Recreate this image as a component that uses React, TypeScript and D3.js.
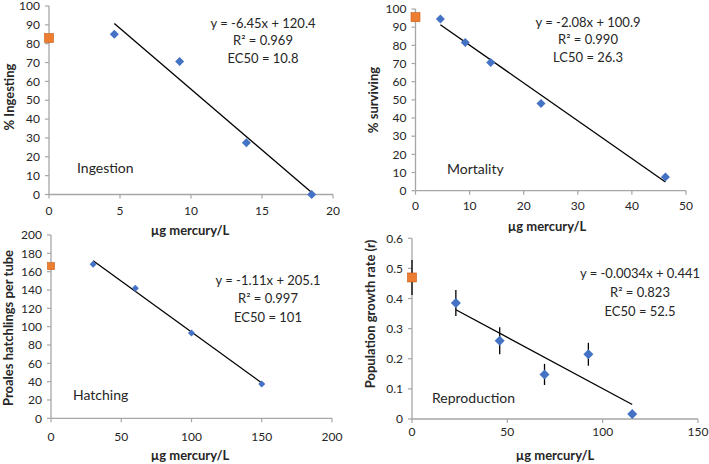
import React from "react";
import * as d3 from "d3";

// ---------- data ----------
const ingestX = [4.6, 9.2, 13.9, 18.5];
const ingestY = [85, 70.5, 27.5, 0];
const ingestControl = 83;

const mortX = [4.6, 9.2, 13.9, 23.2, 46.2];
const mortY = [94.5, 81.5, 70.5, 48, 7.5];
const mortControl = 95.5;

const hatchX = [30, 60, 100, 150];
const hatchY = [168, 142, 93, 37.5];
const hatchControl = 166;

const reproX = [23, 46, 69.5, 92.5, 115.5];
const reproY = [0.385, 0.26, 0.148, 0.215, 0.017];
const reproErr = [0.043, 0.045, 0.035, 0.038, 0.006];
const reproControl = 0.47;
const reproControlErr = 0.058;

const ingestTicksX = [0, 5, 10, 15, 20];
const ingestTicksY = [0, 10, 20, 30, 40, 50, 60, 70, 80, 90, 100];
const mortTicksX = [0, 10, 20, 30, 40, 50];
const mortTicksY = [0, 10, 20, 30, 40, 50, 60, 70, 80, 90, 100];
const hatchTicksX = [0, 50, 100, 150, 200];
const hatchTicksY = [0, 20, 40, 60, 80, 100, 120, 140, 160, 180, 200];
const reproTicksX = [0, 50, 100, 150];
const reproTicksY = [0, 0.1, 0.2, 0.3, 0.4, 0.5, 0.6];

const ingestEq = ["y = -6.45x + 120.4", "R² = 0.969", "EC50 = 10.8"];
const mortEq = ["y = -2.08x + 100.9", "R² = 0.990", "LC50 = 26.3"];
const hatchEq = ["y = -1.11x + 205.1", "R² = 0.997", "EC50 = 101"];
const reproEq = ["y = -0.0034x + 0.441", "R² = 0.823", "EC50 = 52.5"];

const ingestFit = [-6.45, 120.4];
const mortFit = [-2.08, 100.9];
const hatchFit = [-1.11, 205.1];
const reproFit = [-0.0034, 0.441];

const BLUE = "#4472C4";
const ORANGE = "#ED7D31";
const AXIS = "#a6a6a6";
const FONT = "Lato, 'Open Sans', sans-serif";

type PanelProps = {
  box: [number, number, number, number]; // left, right, top, bottom
  xDomain: [number, number];
  yDomain: [number, number];
  xTicks: number[];
  yTicks: number[];
  yFmt?: (v: number) => string;
  xs: number[];
  ys: number[];
  errs?: number[];
  control: number;
  controlErr?: number;
  fit: number[];
  eq: string[];
  eqPos: [number, number, number];
  label: string;
  labelPos: [number, number];
  yTitle: string;
  yTitlePos: [number, number];
  xTitlePos: [number, number];
  xLabelOff: number;
  diamond: number;
  square: number;
};

function Panel(p: PanelProps) {
  const [l, r, t, b] = p.box;
  const x = d3.scaleLinear().domain(p.xDomain).range([l, r]);
  const y = d3.scaleLinear().domain(p.yDomain).range([b, t]);
  const fmt = p.yFmt || ((v: number) => String(v));
  const x0 = d3.min(p.xs) as number;
  const x1 = d3.max(p.xs) as number;
  const line = d3
    .line<number>()
    .x((v) => x(v))
    .y((v) => y(p.fit[0] * v + p.fit[1]));
  const ds = p.diamond / 2;
  const diamondPath = `M0,${-ds}L${ds},0L0,${ds}L${-ds},0Z`;
  return (
    <g fontFamily={FONT}>
      {/* axes */}
      <line x1={x(p.xDomain[0])} x2={x(p.xDomain[1])} y1={b} y2={b} stroke={AXIS} strokeWidth={1.3} />
      <line x1={l} x2={l} y1={y(p.yDomain[0])} y2={y(p.yDomain[1])} stroke={AXIS} strokeWidth={1.3} />
      {p.yTicks.map((v) => (
        <g key={"yt" + v}>
          <line x1={l - 4} x2={l} y1={y(v)} y2={y(v)} stroke={AXIS} strokeWidth={1.2} />
          <text x={l - 9} y={y(v)} dy="0.35em" textAnchor="end" fontSize={12} fill="#262626">
            {fmt(v)}
          </text>
        </g>
      ))}
      {p.xTicks.map((v) => (
        <g key={"xt" + v}>
          <line x1={x(v)} x2={x(v)} y1={b} y2={b + 4} stroke={AXIS} strokeWidth={1.2} />
          <text x={x(v)} y={b + p.xLabelOff} dy="0.35em" textAnchor="middle" fontSize={12} fill="#262626">
            {v}
          </text>
        </g>
      ))}
      {/* titles */}
      <text
        x={p.xTitlePos[0]}
        y={p.xTitlePos[1]}
        dy="0.35em"
        textAnchor="middle"
        fontSize={13}
        fontWeight="bold"
        fill="#262626"
      >
        µg mercury/L
      </text>
      <text
        transform={`translate(${p.yTitlePos[0]},${p.yTitlePos[1]}) rotate(-90)`}
        dy="0.35em"
        textAnchor="middle"
        fontSize={13}
        fontWeight="bold"
        fill="#262626"
      >
        {p.yTitle}
      </text>
      {/* error bars */}
      {p.errs &&
        p.xs.map((v, i) => (
          <line
            key={"e" + i}
            x1={x(v)}
            x2={x(v)}
            y1={y(p.ys[i] - p.errs![i])}
            y2={y(p.ys[i] + p.errs![i])}
            stroke="#000"
            strokeWidth={1.3}
          />
        ))}
      {p.controlErr !== undefined && (
        <line
          x1={x(0)}
          x2={x(0)}
          y1={y(p.control - p.controlErr)}
          y2={y(p.control + p.controlErr)}
          stroke="#000"
          strokeWidth={1.3}
        />
      )}
      {/* trend line */}
      <path d={line([x0, x1]) || ""} stroke="#000" strokeWidth={1.3} fill="none" />
      {/* points */}
      {p.xs.map((v, i) => (
        <path key={"d" + i} d={diamondPath} transform={`translate(${x(v)},${y(p.ys[i])})`} fill={BLUE} />
      ))}
      <rect
        x={x(0) - p.square / 2}
        y={y(p.control) - p.square / 2}
        width={p.square}
        height={p.square}
        fill={ORANGE}
        stroke="#c55a11"
        strokeWidth={0.6}
      />
      {/* equation */}
      {p.eq.map((s, i) => (
        <text
          key={"eq" + i}
          x={p.eqPos[0]}
          y={p.eqPos[1] + i * p.eqPos[2]}
          dy="0.35em"
          textAnchor="middle"
          fontSize={13}
          fill="#262626"
        >
          {s}
        </text>
      ))}
      <text x={p.labelPos[0]} y={p.labelPos[1]} dy="0.35em" fontSize={14} fill="#262626">
        {p.label}
      </text>
    </g>
  );
}

export default function App() {
  return (
    <svg
      width={709}
      height={464}
      style={{ position: "absolute", left: 0, top: 0, background: "#fff" }}
    >
      <rect width={709} height={464} fill="#fff" />
      <Panel
        box={[49, 333, 6, 194.5]}
        xDomain={[0, 20]}
        yDomain={[0, 100]}
        xTicks={ingestTicksX}
        yTicks={ingestTicksY}
        xs={ingestX}
        ys={ingestY}
        control={ingestControl}
        fit={ingestFit}
        eq={ingestEq}
        eqPos={[263, 23, 17.5]}
        label="Ingestion"
        labelPos={[77, 168]}
        yTitle="% Ingesting"
        yTitlePos={[9, 97]}
        xTitlePos={[190, 230]}
        xLabelOff={16.5}
        diamond={9}
        square={9}
      />
      <Panel
        box={[415.5, 686, 9, 190.7]}
        xDomain={[0, 50]}
        yDomain={[0, 100]}
        xTicks={mortTicksX}
        yTicks={mortTicksY}
        xs={mortX}
        ys={mortY}
        control={mortControl}
        fit={mortFit}
        eq={mortEq}
        eqPos={[588, 22, 17.5]}
        label="Mortality"
        labelPos={[447, 169]}
        yTitle="% surviving"
        yTitlePos={[373, 100]}
        xTitlePos={[547, 226]}
        xLabelOff={15.5}
        diamond={9}
        square={9}
      />
      <Panel
        box={[51, 332, 235, 418.3]}
        xDomain={[0, 200]}
        yDomain={[0, 200]}
        xTicks={hatchTicksX}
        yTicks={hatchTicksY}
        xs={hatchX}
        ys={hatchY}
        control={hatchControl}
        fit={hatchFit}
        eq={hatchEq}
        eqPos={[268, 280, 18.5]}
        label="Hatching"
        labelPos={[73, 395]}
        yTitle="Proales hatchlings per tube"
        yTitlePos={[8, 328]}
        xTitlePos={[190, 455]}
        xLabelOff={18.5}
        diamond={7}
        square={7}
      />
      <Panel
        box={[412, 698, 238.3, 419]}
        xDomain={[0, 150]}
        yDomain={[0, 0.6]}
        xTicks={reproTicksX}
        yTicks={reproTicksY}
        yFmt={(v) => (v === 0 ? "0" : d3.format(".1f")(v))}
        xs={reproX}
        ys={reproY}
        errs={reproErr}
        control={reproControl}
        controlErr={reproControlErr}
        fit={reproFit}
        eq={reproEq}
        eqPos={[640, 273, 19]}
        label="Reproduction"
        labelPos={[432, 398]}
        yTitle="Population growth rate (r)"
        yTitlePos={[370, 314]}
        xTitlePos={[555, 455]}
        xLabelOff={13}
        diamond={10}
        square={9}
      />
    </svg>
  );
}
